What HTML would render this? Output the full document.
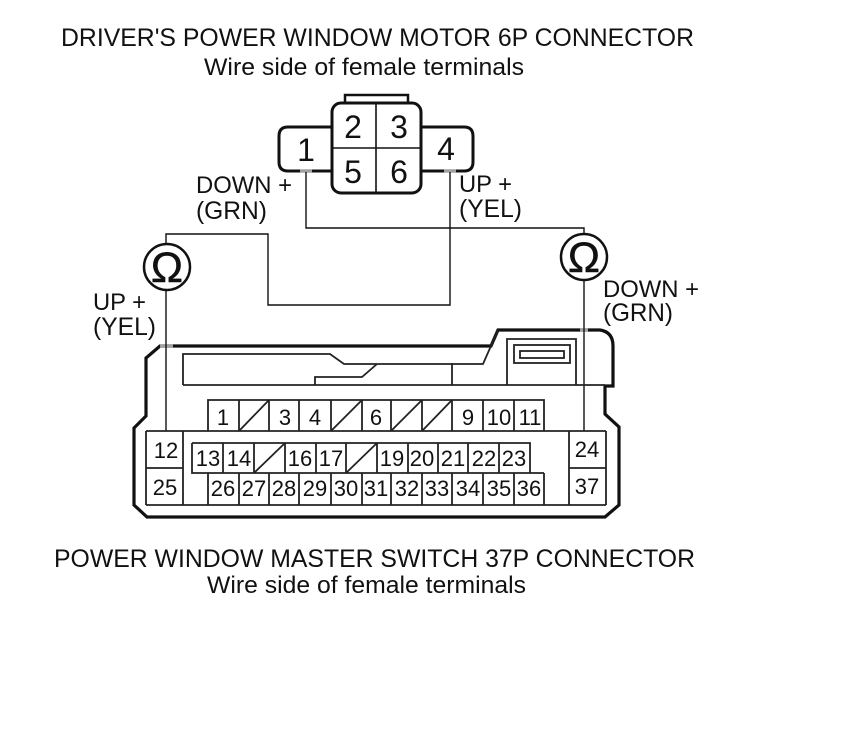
<!DOCTYPE html>
<html>
<head>
<meta charset="utf-8">
<style>
html,body{margin:0;padding:0;background:#fff;width:860px;height:735px;overflow:hidden}
svg{display:block}
text{font-family:"Liberation Sans",Arial,sans-serif;fill:#111}
.n{font-size:22px;text-anchor:middle}
.b{font-size:32px;text-anchor:middle}
.t{font-size:24px}
.o{font-size:43px;text-anchor:middle;stroke:#111;stroke-width:.5}
</style>
</head>
<body>
<svg width="860" height="735" viewBox="0 0 860 735" xmlns="http://www.w3.org/2000/svg">
<g class="t">
<text x="61" y="46" font-size="25" textLength="633" lengthAdjust="spacingAndGlyphs">DRIVER'S POWER WINDOW MOTOR 6P CONNECTOR</text>
<text x="204" y="75" font-size="24" textLength="320" lengthAdjust="spacingAndGlyphs">Wire side of female terminals</text>
<text x="54" y="567" font-size="25" textLength="641" lengthAdjust="spacingAndGlyphs">POWER WINDOW MASTER SWITCH 37P CONNECTOR</text>
<text x="207" y="593" font-size="24" textLength="319" lengthAdjust="spacingAndGlyphs">Wire side of female terminals</text>
<text x="196" y="193" textLength="96" lengthAdjust="spacingAndGlyphs">DOWN +</text>
<text x="196" y="219" font-size="25" textLength="71" lengthAdjust="spacingAndGlyphs">(GRN)</text>
<text x="459" y="192" textLength="53" lengthAdjust="spacingAndGlyphs">UP +</text>
<text x="459" y="217" font-size="25" textLength="63" lengthAdjust="spacingAndGlyphs">(YEL)</text>
<text x="93" y="310" textLength="53" lengthAdjust="spacingAndGlyphs">UP +</text>
<text x="93" y="335" font-size="25" textLength="63" lengthAdjust="spacingAndGlyphs">(YEL)</text>
<text x="603" y="297" textLength="96" lengthAdjust="spacingAndGlyphs">DOWN +</text>
<text x="603" y="321" font-size="25" textLength="70" lengthAdjust="spacingAndGlyphs">(GRN)</text>
</g>

<!-- top connector -->
<g fill="none" stroke="#111">
<path d="M345 103V95H408V103" stroke-width="2.5"/>
<path d="M332 127H288Q279 127 279 136V162Q279 171 288 171H332" stroke-width="3"/>
<path d="M421 127H464Q473 127 473 136V162Q473 171 464 171H421" stroke-width="3"/>
<rect x="332" y="103" width="89" height="90" rx="9" stroke-width="3"/>
<path d="M376 103V193M332 148H421" stroke-width="1.6"/>
</g>
<text class="b" x="353" y="138">2</text>
<text class="b" x="399" y="138">3</text>
<text class="b" x="306" y="161">1</text>
<text class="b" x="446" y="160">4</text>
<text class="b" x="353" y="183">5</text>
<text class="b" x="399" y="183">6</text>

<!-- bottom connector outline -->
<path d="M160 346H491L498 330H600Q613 332 613 346V386H605V414L619 427V505L605 517H147L134 505V428L146 416V358Z" fill="none" stroke="#111" stroke-width="3.2"/>

<!-- gray where wires cross the outline -->
<g stroke="#a0a0a0" stroke-width="3.4" fill="none">
<path d="M160 346H173"/>
<path d="M580 330H588"/>
<path d="M300 171H312M444 171H456"/>
</g>

<!-- wires -->
<g fill="none" stroke="#111" stroke-width="1.4">
<path d="M306 172V228H584V236"/>
<path d="M450 172V305H268V234H166V244"/>
<path d="M166 290V431"/>
<path d="M584 280V431"/>
</g>
<g fill="#fff" stroke="#111" stroke-width="2.5">
<circle cx="167" cy="267" r="23"/>
<circle cx="584" cy="257" r="23"/>
</g>
<text class="o" x="167" y="282">Ω</text>
<text class="o" x="584" y="272">Ω</text>

<g fill="none" stroke="#222" stroke-width="1.8">
<path d="M183 385V354H330L344 364H483L498 330"/>
<path d="M183 385H605"/>
<path d="M315 385V377H362L377 364"/>
<path d="M452 363V385"/>
<path d="M507 385V339H576V385"/>
<rect x="514" y="345" width="56" height="18"/>
<rect x="520" y="351" width="44" height="7"/>
<!-- horizontals -->
<path d="M146 431H606"/>
<path d="M146 505H606"/>
<!-- side blocks -->
<path d="M146 431V505M183 431V505M146 468H183"/>
<path d="M569 431V505M606 431V505M569 468H606"/>
<!-- row 1 -->
<path d="M208 431V400H544V431"/>
<path d="M239 400V431M269 400V431M299 400V431M331 400V431M362 400V431M391 400V431M422 400V431M452 400V431M483 400V431M514 400V431"/>
<path d="M239 431L269 400M331 431L362 400M391 431L422 400M422 431L452 400"/>
<!-- row 2 -->
<path d="M192 443H530V473M192 443V473H544"/>
<path d="M223 443V473M254 443V473M285 443V473M316 443V473M346 443V473M377 443V473M408 443V473M438 443V473M468 443V473M499 443V473"/>
<path d="M254 473L285 443M346 473L377 443"/>
<!-- row 3 -->
<path d="M208 473V505M239 473V505M269 473V505M299 473V505M331 473V505M362 473V505M391 473V505M422 473V505M452 473V505M483 473V505M514 473V505M544 473V505"/>
</g>

<g class="n">
<text class="n" x="223" y="425">1</text>
<text class="n" x="285" y="425">3</text>
<text class="n" x="315" y="425">4</text>
<text class="n" x="376" y="425">6</text>
<text class="n" x="468" y="425">9</text>
<text class="n" x="499" y="425">10</text>
<text class="n" x="530" y="425">11</text>

<text class="n" x="166" y="458">12</text>
<text class="n" x="165" y="495">25</text>
<text class="n" x="587" y="457">24</text>
<text class="n" x="587" y="494">37</text>

<text class="n" x="208" y="466">13</text>
<text class="n" x="239" y="466">14</text>
<text class="n" x="300" y="466">16</text>
<text class="n" x="331" y="466">17</text>
<text class="n" x="392" y="466">19</text>
<text class="n" x="422" y="466">20</text>
<text class="n" x="453" y="466">21</text>
<text class="n" x="484" y="466">22</text>
<text class="n" x="514" y="466">23</text>

<text class="n" x="223" y="496">26</text>
<text class="n" x="254" y="496">27</text>
<text class="n" x="284" y="496">28</text>
<text class="n" x="315" y="496">29</text>
<text class="n" x="346" y="496">30</text>
<text class="n" x="376" y="496">31</text>
<text class="n" x="407" y="496">32</text>
<text class="n" x="437" y="496">33</text>
<text class="n" x="468" y="496">34</text>
<text class="n" x="499" y="496">35</text>
<text class="n" x="529" y="496">36</text>
</g>
</svg>
</body>
</html>
